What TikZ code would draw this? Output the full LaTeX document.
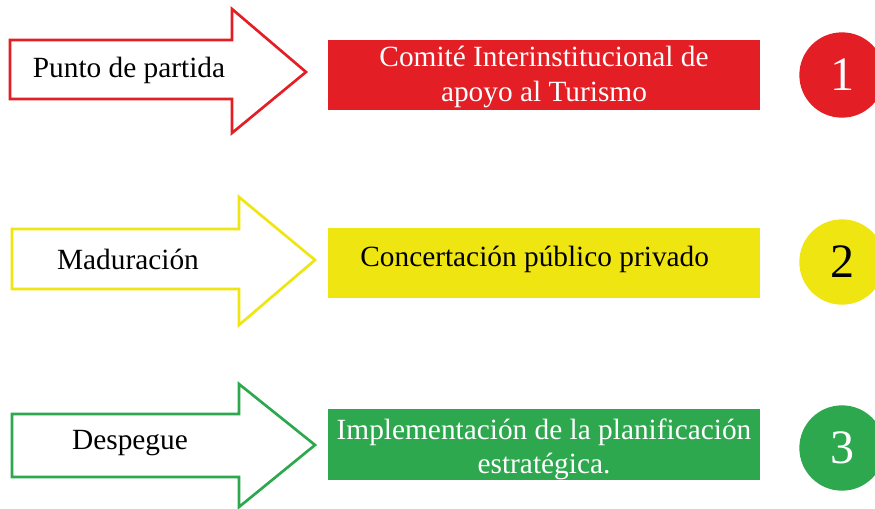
\documentclass[tikz,border=0pt]{standalone}
\usepackage{fontspec}
\setmainfont{Liberation Serif}
\definecolor{rojo}{HTML}{E41E25}
\definecolor{amarillo}{HTML}{EFE511}
\definecolor{verde}{HTML}{2DA84F}
\tikzset{
every picture/.style={line width=2pt},
flecha/.style={fill=white, line join=miter},
etiqueta/.style={font=\fontsize{22}{26}\selectfont},
caja/.style={rectangle, minimum width=324pt, minimum height=53pt, align=center, inner sep=0pt, font=\fontsize{22}{26}\selectfont},
numero/.style={circle, minimum size=64pt, inner sep=0pt, font=\fontsize{36}{40}\selectfont}
}

\begin{document}
\begin{tikzpicture}[x=0.75pt, y=-0.75pt]
    \useasboundingbox (0,0) rectangle (875,508);
    % flechas
    \draw[flecha, draw=rojo] (10,40) -- (232,40) -- (232,9) -- (306,72) -- (232,133) -- (232,99) -- (10,99) -- cycle;
    \draw[flecha, draw=amarillo] (12,229) -- (239,229) -- (239,197) -- (315,260) -- (239,325) -- (239,289) -- (12,289) -- cycle;
    \draw[flecha, draw=verde] (12,414) -- (239,414) -- (239,384) -- (315,445) -- (239,507) -- (239,477) -- (12,477) -- cycle;
    \node[etiqueta] (partida) at (129,70) {Punto de partida};
    \node[etiqueta] (maduracion) at (128,259) {Maduración};
    \node[etiqueta] (despegue) at (130,443) {Despegue};
    % cajas
    \node[caja, fill=rojo, text=white] (comite) at (544,75) {\raisebox{-1.5pt}[\height][\depth]{Comité Interinstitucional de}\\\raisebox{-1.5pt}[\height][\depth]{apoyo al Turismo}};
    \node[caja, fill=amarillo, text=black] (concertacion) at (544,263) {\hspace*{-14pt}\raisebox{2.5pt}[\height][\depth]{Concertación público privado}};
    \node[caja, fill=verde, text=white] (implementacion) at (544,444.5) {\raisebox{-3.5pt}[\height][\depth]{Implementación de la planificación}\\\raisebox{-3.5pt}[\height][\depth]{estratégica.}};
    % numeros
    \node[numero, fill=rojo, text=white] (uno) at (842,75) {1};
    \node[numero, fill=amarillo, text=black] (dos) at (842,262) {2};
    \node[numero, fill=verde, text=white] (tres) at (842,448) {3};
\end{tikzpicture}
\end{document}
